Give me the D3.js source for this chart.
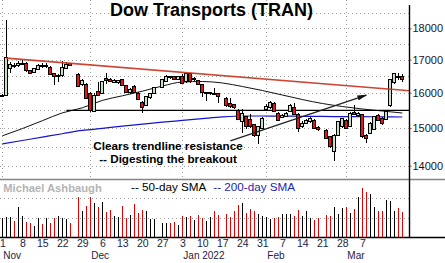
<!DOCTYPE html>
<html>
<head>
<meta charset="utf-8">
<script src="https://cdn.jsdelivr.net/npm/d3@7"></script>
<style>
	body { margin: 0; background: #fff; }
	svg { display: block; }
	text { font-family: "Liberation Sans", Arial, sans-serif; }
</style>
</head>
<body>
<div id="chart"></div>
<script>
"use strict";

var firstDay = "2021-11-01";
var lastDay = "2022-03-21";
var holidays = ["2021-11-25", "2021-12-24", "2022-01-17", "2022-02-21"];

// daily bars, one entry per trading day
var open = [
	15918, 15932, 16739, 16831, 16816,
	16847, 16871, 16648, 16608, 16708,
	16810, 16770, 16754, 16557, 16487,
	16505, 16730, 16878, 16548,
	16227, 16247, 15982, 15473, 16049,
	15982, 16427, 16376, 16316, 16287,
	16376, 16206, 16011, 16177, 15982,
	15721, 15643, 15854, 15982,
	16158, 16325, 16475, 16466, 16376,
	16496, 16325, 16578, 16376, 16346,
	16227, 15962, 15977, 15991, 15962,
	15836, 15692, 15663, 15501,
	15173, 15313, 15240, 15082, 14808,
	14990, 15520, 15567, 15692, 15408,
	15304, 15332, 15453, 15567, 15388,
	15035, 15128, 15173, 15220, 15018,
	14944, 14762, 14363, 14808,
	15035, 15220, 15054, 15437, 15360,
	15380, 14808, 14854, 14972, 15360,
	15267, 15248, 15624, 16296, 16487,
	16466
];
var high = [
	15962, 18259, 16933, 16893, 16955,
	17001, 16909, 16678, 16754, 16847,
	16903, 16878, 16800, 16587, 16542,
	16955, 16915, 16903, 16572,
	16391, 16287, 16020, 15991, 16316,
	16346, 16578, 16436, 16406, 16376,
	16406, 16227, 16138, 16212, 16006,
	15758, 15903, 15991, 16182,
	16406, 16527, 16511, 16496, 16511,
	16542, 16602, 16602, 16451, 16376,
	16241, 16020, 16035, 16147, 15977,
	15860, 15854, 15686, 15529,
	15520, 15346, 15388, 15123, 15068,
	15304, 15672, 15773, 15730, 15445,
	15388, 15445, 15672, 15692, 15416,
	15193, 15248, 15304, 15248, 15054,
	14972, 14781, 14835, 15206,
	15290, 15248, 15431, 15643, 15445,
	15402, 14849, 15165, 15346, 15402,
	15304, 15501, 16406, 16602, 16587,
	16557
];
var low = [
	15874, 15903, 16578, 16739, 16785,
	16816, 16617, 16542, 16572, 16693,
	16754, 16754, 16527, 16227, 16325,
	16481, 16724, 16810, 16168,
	16197, 15816, 15453, 15445, 15903,
	15962, 16247, 16316, 16287, 16256,
	16197, 15977, 15962, 15991, 15787,
	15408, 15615, 15830, 15962,
	16138, 16316, 16406, 16361, 16361,
	16256, 16301, 16301, 16346, 16227,
	15883, 15758, 15932, 15932, 15692,
	15601, 15572, 15544, 15220,
	14854, 14985, 14999, 14762, 14558,
	14972, 15501, 15544, 15431, 15193,
	15276, 15304, 15445, 15360, 14882,
	14999, 15109, 15137, 14972, 14917,
	14700, 14473, 14113, 14781,
	15013, 14972, 15027, 15360, 15304,
	14740, 14585, 14835, 14944, 15193,
	15095, 15220, 15601, 16271, 16361,
	16316
];
var close = [
	15932, 17057, 16850, 16785, 16878,
	16878, 16648, 16578, 16724, 16810,
	16770, 16831, 16548, 16496, 16505,
	16748, 16862, 16831, 16197,
	16355, 15836, 15501, 15932, 15932,
	16325, 16355, 16331, 16361, 16346,
	16206, 16011, 16108, 16011, 15816,
	15578, 15883, 15962, 16158,
	16376, 16496, 16436, 16391, 16481,
	16277, 16578, 16325, 16421, 16247,
	16011, 16000, 16006, 15962, 15903,
	15624, 15595, 15567, 15248,
	15408, 15027, 15035, 14808, 15035,
	15267, 15615, 15721, 15453, 15220,
	15360, 15416, 15643, 15388, 14990,
	15128, 15220, 15267, 14990, 14963,
	14719, 14495, 14808, 15173,
	15267, 14990, 15408, 15380, 15402,
	14762, 14727, 15128, 15313, 15220,
	15128, 15473, 16376, 16578, 16457,
	16376
];
// volume, millions of shares
var volume = [
	10, 10.2, 10.2, 8.3, 15.5,
	10.9, 7.9, 7.2, 5.9, 9.8,
	6.7, 9.8, 7.4, 10, 10.7,
	10, 9.5, 7.2, 20.7,
	13.6, 16.2, 20.7, 17.8, 15.5,
	18.3, 13.1, 14, 10.7, 10.2,
	16, 10, 11.4, 17.1, 12.6,
	14, 13.3, 9.5, 9.5,
	7.4, 7.1, 7.1, 7.9, 6.2,
	10.9, 10.2, 10.9, 8.8, 11.4,
	9.7, 8.4, 10.2, 13.4, 11.4,
	11.7, 10.5, 13.6, 16.6,
	17.8, 12.6, 14.3, 13.4, 11.7,
	11, 10.2, 9.3, 9.7, 10.5,
	11.7, 12.1, 12.1, 11, 14,
	10.9, 13.4, 9.7, 8.8, 9.7,
	11.4, 11, 15.4, 11.7,
	14.8, 15.4, 12.2, 14.3, 20.9,
	25.2, 23.4, 22.2, 15.4, 13.6,
	13.6, 19.1, 18.6, 13.6, 14.8,
	13.1
];

var sma50 = [14786, 14983, 15201, 15420, 15564, 15776, 15909, 16044, 16197, 16316, 16331,
	16287, 16182, 16064, 15932, 15801, 15687, 15601, 15530, 15473, 15416];
var sma200 = [14569, 14660, 14751, 14843, 14933, 14990, 15049, 15104, 15159, 15209, 15259,
	15307, 15332, 15332, 15329, 15324, 15321, 15315, 15313, 15310, 15304];

var priceTicks = [14000, 15000, 16000, 17000, 18000];
var priceGrid = [14000, 14500, 15000, 15500, 16000, 16500, 17000, 17500, 18000, 18500];
var volumeGrid = [10, 20];
var monthLabels = [["2021-11-01", "Nov"], ["2021-12-01", "Dec"], ["2022-01-03", "Jan 2022"],
	["2022-02-01", "Feb"], ["2022-03-01", "Mar"]];

var trendline = [["2021-11-02", 17045], ["2022-03-21", 16076]];
var support = [["2021-11-23", 15490], ["2022-03-21", 15490]];
var arrowLine = [["2022-01-19", 14650], ["2022-03-08", 15932]];

var width = 445, height = 263;
var axisX = 409.5, priceBottom = 179, volBottom = 237;

var parse = d3.utcParse("%Y-%m-%d");
var fmt = d3.utcFormat("%Y-%m-%d");
var start = parse(firstDay), end = parse(lastDay);

// position on a weekday grid, holidays keep their slot
function slot(d) {
	if (typeof d === "string") d = parse(d);
	return d3.utcMonday.count(start, d) * 5 + (d.getUTCDay() + 6) % 7;
}

var days = d3.utcDay.range(start, d3.utcDay.offset(end, 1)).filter(function(d) {
	return d.getUTCDay() % 6 !== 0 && holidays.indexOf(fmt(d)) < 0;
});
var bars = days.map(function(d, i) {
	return { s: slot(d), o: open[i], h: high[i], l: low[i], c: close[i], v: volume[i] };
});
var mondays = d3.utcMonday.range(start, d3.utcDay.offset(end, 1));

var x = d3.scaleLinear().domain([0, slot(end)]).range([2.33, 402.33]);
var y = d3.scaleLog().domain([14000, 18000]).range([165.7, 28.3]);
var yVol = d3.scaleLinear().domain([0, 30]).range([volBottom, 179]);

var svg = d3.select("#chart").append("svg")
	.attr("width", width)
	.attr("height", height);

svg.append("defs").append("clipPath").attr("id", "priceClip")
	.append("rect").attr("x", 0).attr("y", 0).attr("width", axisX).attr("height", priceBottom);
svg.select("defs").append("marker")
	.attr("id", "head")
	.attr("markerUnits", "userSpaceOnUse")
	.attr("viewBox", "0 -3 10 6")
	.attr("refX", 9).attr("refY", 0)
	.attr("markerWidth", 10).attr("markerHeight", 6)
	.attr("orient", "auto")
	.append("path").attr("d", "M0,-2.6L10,0L0,2.6Z").attr("fill", "#111");

// grid
var grid = svg.append("g").attr("stroke", "#a0a0a0").attr("stroke-dasharray", "1,3")
	.attr("shape-rendering", "crispEdges");
grid.selectAll(".hg").data(priceGrid).enter().append("line")
	.attr("x1", 0).attr("x2", axisX)
	.attr("y1", function(d) { return Math.round(y(d)) + 0.5; })
	.attr("y2", function(d) { return Math.round(y(d)) + 0.5; });
grid.selectAll(".vg").data(monthLabels).enter().append("line")
	.attr("x1", function(d) { return Math.floor(x(slot(d[0]))) + 0.5; })
	.attr("x2", function(d) { return Math.floor(x(slot(d[0]))) + 0.5; })
	.attr("y1", 0).attr("y2", priceBottom);
grid.selectAll(".volg").data(volumeGrid).enter().append("line")
	.attr("x1", 0).attr("x2", axisX)
	.attr("y1", function(d) { return Math.round(yVol(d)) + 0.5; })
	.attr("y2", function(d) { return Math.round(yVol(d)) + 0.5; });

// price panel
var price = svg.append("g").attr("clip-path", "url(#priceClip)");

function linePoints(pts) {
	return pts.map(function(p) { return [x(slot(p[0])), y(p[1])]; });
}
function toAxis(pts) {
	var a = pts[0], b = pts[1];
	var k = (b[1] - a[1]) / (b[0] - a[0]);
	return [a, [axisX, a[1] + k * (axisX - a[0])]];
}

var smaLine = d3.line()
	.x(function(d, i) { return x(slot(mondays[i])); })
	.y(function(d) { return y(d); })
	.curve(d3.curveMonotoneX);

price.append("path").attr("d", smaLine(sma200))
	.attr("fill", "none").attr("stroke", "#1414d2").attr("stroke-width", 1.2);
price.append("path").attr("d", smaLine(sma50))
	.attr("fill", "none").attr("stroke", "#111").attr("stroke-width", 1);

price.append("path").attr("d", d3.line()(toAxis(linePoints(support))))
	.attr("stroke", "#000").attr("stroke-width", 1.4);

var candle = price.append("g").attr("shape-rendering", "crispEdges");
candle.selectAll(".wick").data(bars).enter().append("line")
	.attr("x1", function(d) { return Math.floor(x(d.s)) + 0.5; })
	.attr("x2", function(d) { return Math.floor(x(d.s)) + 0.5; })
	.attr("y1", function(d) { return y(d.h); })
	.attr("y2", function(d) { return y(d.l); })
	.attr("stroke", "#000");
candle.selectAll(".body").data(bars).enter().append("rect")
	.attr("x", function(d) { return Math.floor(x(d.s)) - 1.5; })
	.attr("width", 3)
	.attr("y", function(d) { return y(Math.max(d.o, d.c)); })
	.attr("height", function(d) { return Math.max(1, Math.abs(y(d.o) - y(d.c))); })
	.attr("fill", function(d) { return d.c >= d.o ? "#c6dfc6" : "#ec1212"; })
	.attr("stroke", "#000");

price.append("path").attr("d", d3.line()(toAxis(linePoints(trendline))))
	.attr("stroke", "#c8321e").attr("stroke-width", 1.6).attr("stroke-opacity", 0.9);

price.append("path").attr("d", d3.line()(linePoints(arrowLine)))
	.attr("stroke", "#222").attr("stroke-width", 1.3)
	.attr("marker-end", "url(#head)");

// volume panel
svg.append("g").attr("shape-rendering", "crispEdges")
	.selectAll("line").data(bars).enter().append("line")
	.attr("x1", function(d) { return Math.floor(x(d.s)) + 0.5; })
	.attr("x2", function(d) { return Math.floor(x(d.s)) + 0.5; })
	.attr("y1", yVol(0))
	.attr("y2", function(d) { return yVol(d.v); })
	.attr("stroke", function(d) { return d.c >= d.o ? "#000" : "#e80000"; });

// frame
svg.append("line").attr("x1", 0).attr("x2", width).attr("y1", priceBottom + 0.5).attr("y2", priceBottom + 0.5)
	.attr("stroke", "#858585").attr("stroke-width", 1.6);
svg.append("line").attr("x1", 0).attr("x2", width).attr("y1", volBottom + 0.5).attr("y2", volBottom + 0.5)
	.attr("stroke", "#000").attr("stroke-width", 1.5);
svg.append("line").attr("x1", axisX).attr("x2", axisX).attr("y1", 5).attr("y2", volBottom)
	.attr("stroke", "#000").attr("stroke-width", 1.4);

// axes
var yAxis = svg.append("g").attr("transform", "translate(" + axisX + ",0)")
	.call(d3.axisRight(y).tickValues(priceTicks).tickSize(2).tickPadding(1)
		.tickFormat(d3.format("d")));
yAxis.select(".domain").remove();
yAxis.selectAll("line").attr("stroke", "#9a3020");
yAxis.selectAll("text").attr("fill", "#141428").style("font-size", "11px")
	.style("font-family", "'Liberation Sans', Arial, sans-serif");

var xAxis = svg.append("g").attr("transform", "translate(0," + volBottom + ")")
	.call(d3.axisBottom(x).tickValues(mondays.slice(0, 19).map(slot)).tickSize(0).tickPadding(2.5)
		.tickFormat(function(s, i) { return mondays[i].getUTCDate(); }));
xAxis.select(".domain").remove();
xAxis.selectAll("text").attr("fill", "#1c1c46").style("font-size", "10.5px")
	.style("font-family", "'Liberation Sans', Arial, sans-serif");

svg.append("g").selectAll("text").data(monthLabels).enter().append("text")
	.attr("x", function(d) { return x(slot(d[0])) + 1; })
	.attr("y", 258.5)
	.attr("fill", "#1c1c46")
	.style("font-size", "10px")
	.text(function(d) { return d[1]; });

// labels
svg.append("text").attr("x", 211.5).attr("y", 16.2).attr("text-anchor", "middle")
	.style("font-size", "18px").style("font-weight", "bold").attr("fill", "#000")
	.text("Dow Transports (TRAN)");

var note = svg.append("g").attr("text-anchor", "middle").style("font-size", "11.7px")
	.style("font-weight", "bold").attr("fill", "#000");
note.append("text").attr("x", 168).attr("y", 149.5).text("Clears trendline resistance");
note.append("text").attr("x", 168).attr("y", 162.5).text("-- Digesting the breakout");

svg.append("text").attr("x", 3.3).attr("y", 191.7).style("font-size", "11.2px")
	.style("font-weight", "bold").attr("fill", "#b4b4b4").text("Michael Ashbaugh");
svg.append("text").attr("x", 131).attr("y", 190.7).style("font-size", "11.7px")
	.attr("fill", "#000").text("-- 50-day SMA");
svg.append("text").attr("x", 213.3).attr("y", 190.7).style("font-size", "11.7px")
	.attr("fill", "#1f1fb4").text("-- 200-day SMA");
</script>
</body>
</html>
